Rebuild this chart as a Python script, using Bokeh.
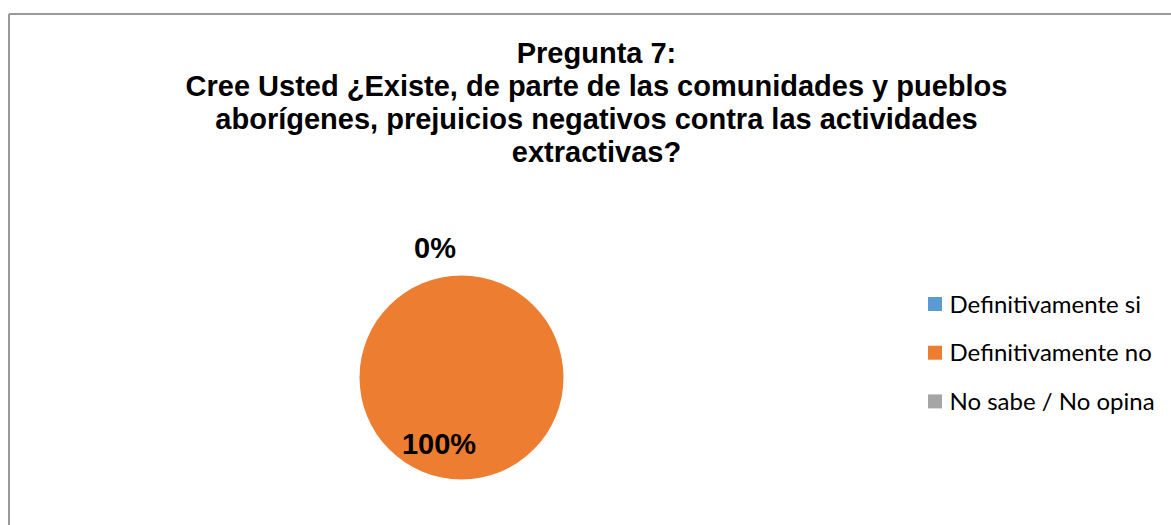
import math
from bokeh.plotting import figure
from bokeh.models import ColumnDataSource, Range1d
from bokeh.core.properties import value
from bokeh.embed import file_html
from bokeh.resources import INLINE

# ---- data ----
categories = ["Definitivamente si", "Definitivamente no", "No sabe / No opina"]
values = [0, 100, 0]
colors = ["#5b9bd5", "#ed7d31", "#a5a5a5"]
title_lines = [
    "Pregunta 7:",
    "Cree Usted ¿Existe, de parte de las comunidades y pueblos",
    "aborígenes, prejuicios negativos contra las actividades",
    "extractivas?",
]

W, H = 1171, 525
p = figure(width=W, height=H, output_backend="svg", toolbar_location=None,
           x_range=Range1d(0, W), y_range=Range1d(0, H),
           min_border=0, min_border_left=0, min_border_right=0,
           min_border_top=0, min_border_bottom=0)
p.axis.visible = False
p.grid.visible = False
p.outline_line_color = None
p.background_fill_color = "white"
p.border_fill_color = "white"

def Y(v):
    # convert distance from top into data y
    return H - v

# chart border (top and left edges visible)
p.multi_line(xs=[[8.5, W + 5], [8.5, 8.5]], ys=[[Y(13.5), Y(13.5)], [Y(13.5), -5]],
             line_color="#9a9a9a", line_width=2)

# title
title_cx = 596
baselines = [Y(52), Y(85), Y(118), Y(151)]
p.text(x=[title_cx] * len(title_lines), y=baselines, text=title_lines,
       text_font=value("Liberation Sans"), text_font_style="bold",
       text_font_size="29px", text_align="center", text_baseline="alphabetic",
       text_color="#000000")

# pie
cx, cy, r = 461, Y(377), 102
total = sum(values)
starts, ends, mids = [], [], []
cum = 0.0
for v in values:
    frac0 = cum / total
    cum += v
    frac1 = cum / total
    starts.append(math.pi / 2 - frac1 * 2 * math.pi)
    ends.append(math.pi / 2 - frac0 * 2 * math.pi)
    mids.append(math.pi / 2 - (frac0 + frac1) * math.pi)

keep = [i for i, v in enumerate(values) if v > 0]
src = ColumnDataSource(dict(
    cat=[categories[i] for i in keep],
    color=[colors[i] for i in keep],
    start=[starts[i] for i in keep],
    end=[ends[i] for i in keep],
    x=[cx] * len(keep), y=[cy] * len(keep)))
full = [i for i in keep if values[i] == total]
if full:
    # a single slice that is the whole pie
    p.scatter(x=[cx], y=[cy], size=2 * r, marker="circle",
              fill_color=colors[full[0]], line_color=None)
else:
    p.wedge(x="x", y="y", radius=r, radius_units="screen",
            start_angle="start", end_angle="end",
            fill_color="color", line_color=None, source=src)

# data labels
lab_x, lab_y, lab_t = [], [], []
for v, m in zip(values, mids):
    pct = f"{round(100 * v / total)}%"
    if v == 0:
        if "0%" in lab_t:
            continue
        rr, dx = 1.27 * r, -26.5
    else:
        rr, dx = 0.65 * r, -22.5
    lab_x.append(cx + rr * math.cos(m) + dx)
    lab_y.append(cy + rr * math.sin(m))
    lab_t.append(pct)
p.text(x=lab_x, y=lab_y, text=lab_t, text_font=value("Liberation Sans"),
       text_font_style="bold", text_font_size="29px", text_align="center",
       text_baseline="middle", text_color="#000000")

# legend (manual)
leg_y = [Y(303.5 + 48.7 * i) for i in range(len(categories))]
p.scatter(x=[934.5] * len(categories), y=leg_y, size=14, marker="square",
          fill_color=colors, line_color=None)
p.text(x=[949] * len(categories), y=[v + 1 for v in leg_y], text=categories,
       text_font=value("Lato"), text_font_size="24px", text_align="left",
       text_baseline="middle", text_color="#000000")

open("out.html", "w").write(file_html(p, INLINE))
